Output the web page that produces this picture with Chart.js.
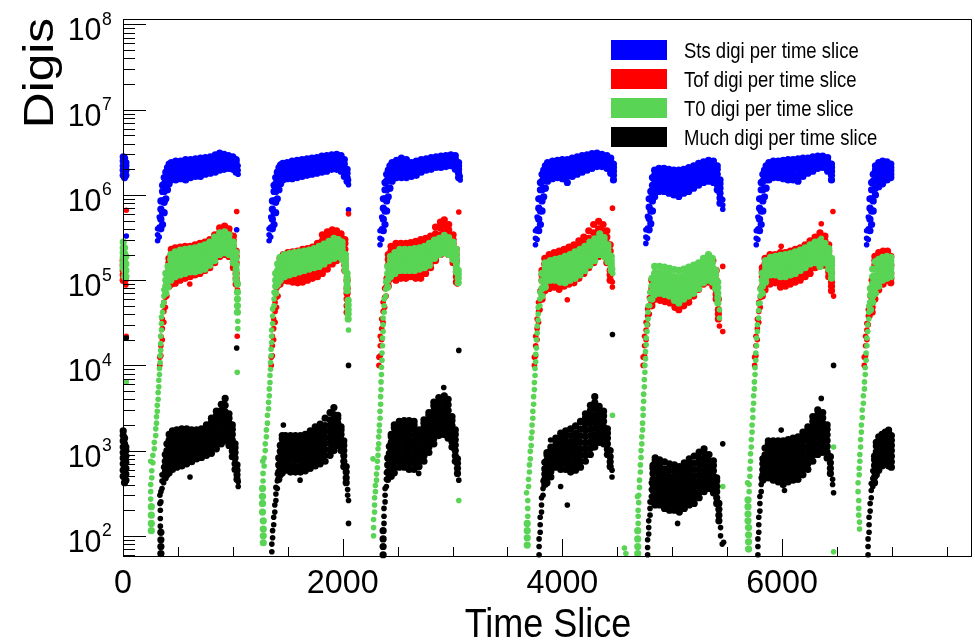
<!DOCTYPE html>
<html>
<head>
<meta charset="utf-8">
<title>Digis per time slice</title>
<script src="https://cdn.jsdelivr.net/npm/chart.js@4.4.1/dist/chart.umd.min.js"></script>
<style>
  html, body { margin: 0; padding: 0; background: #ffffff; }
  #wrap { width: 975px; height: 644px; }
</style>
</head>
<body>
<div id="wrap"><canvas id="digiChart" width="975" height="644"></canvas></div>
<script>
// labels, ticks and colours
const seriesLabels = ['Sts digi per time slice', 'Tof digi per time slice', 'T0 digi per time slice', 'Much digi per time slice'];
const seriesColors = ['#0000ff', '#ff0000', '#59d454', '#000000'];
const xTickLabels = [0, 2000, 4000, 6000];
const yDecades = [2, 3, 4, 5, 6, 7, 8];

// each row: [time slice, digi counts seen at that slice...]
const stsSeg0 = [
  [2, 1.7e6, 1.95e6, 2.2e6, 2.5e6, 2.8e6], [14, 1.6e6, 1.85e6, 2.1e6, 2.4e6, 2.7e6], [26, 1.7e6, 1.95e6, 2.2e6, 2.4e6],
  [30, 3.3e5]
];
const stsSeg1 = [
  [315, 2.9e5, 3.4e5, 4.0e5], [330, 3.2e5, 4.2e5, 5.5e5], [345, 4.0e5, 5.2e5, 6.8e5, 8.5e5],
  [360, 4.5e5, 6.2e5, 8.5e5, 1.1e6, 1.3e6], [375, 6.2e5, 8.2e5, 1.1e6, 1.35e6, 1.6e6],
  [390, 9.0e5, 1.15e6, 1.45e6, 1.85e6], [405, 1.15e6, 1.4e6, 1.7e6, 2.1e6], [420, 1.35e6, 1.65e6, 1.95e6, 2.3e6],
  [440, 1.5e6, 1.7e6, 1.9e6, 2.15e6, 2.4e6], [480, 1.5e6, 1.7e6, 1.95e6, 2.2e6, 2.5e6],
  [525, 1.55e6, 1.75e6, 2.0e6, 2.25e6, 2.5e6], [570, 1.5e6, 1.75e6, 2.0e6, 2.3e6, 2.6e6],
  [615, 1.6e6, 1.8e6, 2.05e6, 2.3e6, 2.6e6], [660, 1.65e6, 1.85e6, 2.1e6, 2.35e6, 2.65e6],
  [705, 1.65e6, 1.9e6, 2.15e6, 2.4e6, 2.7e6], [750, 1.75e6, 1.95e6, 2.2e6, 2.45e6, 2.75e6],
  [795, 1.8e6, 2.0e6, 2.25e6, 2.5e6, 2.8e6], [840, 1.85e6, 2.1e6, 2.35e6, 2.65e6, 2.95e6],
  [880, 1.95e6, 2.2e6, 2.45e6, 2.75e6, 3.1e6], [920, 2.0e6, 2.2e6, 2.45e6, 2.7e6, 3.0e6],
  [960, 2.05e6, 2.25e6, 2.45e6, 2.65e6, 2.9e6], [1000, 2.0e6, 2.2e6, 2.4e6, 2.6e6, 2.8e6],
  [1030, 1.85e6, 2.05e6, 2.25e6, 2.45e6, 2.6e6], [1048, 1.75e6, 1.95e6, 2.2e6], [1035, 3.9e5]
];
const stsSeg2 = [
  [1330, 2.9e5, 3.4e5, 4.0e5], [1345, 3.2e5, 4.2e5, 5.5e5], [1360, 4.0e5, 5.2e5, 6.8e5, 8.5e5],
  [1375, 4.5e5, 6.2e5, 8.5e5, 1.1e6, 1.3e6], [1390, 6.2e5, 8.2e5, 1.1e6, 1.35e6, 1.6e6],
  [1405, 9.0e5, 1.15e6, 1.45e6, 1.85e6], [1420, 1.15e6, 1.4e6, 1.7e6, 2.1e6], [1435, 1.35e6, 1.65e6, 1.95e6, 2.25e6],
  [1455, 1.5e6, 1.7e6, 1.9e6, 2.1e6, 2.35e6], [1495, 1.55e6, 1.75e6, 1.95e6, 2.15e6, 2.4e6],
  [1540, 1.55e6, 1.75e6, 2.0e6, 2.25e6, 2.5e6], [1585, 1.6e6, 1.8e6, 2.05e6, 2.3e6, 2.55e6],
  [1630, 1.65e6, 1.85e6, 2.1e6, 2.35e6, 2.6e6], [1675, 1.7e6, 1.9e6, 2.15e6, 2.4e6, 2.65e6],
  [1720, 1.75e6, 1.95e6, 2.2e6, 2.45e6, 2.7e6], [1765, 1.8e6, 2.0e6, 2.25e6, 2.5e6, 2.75e6],
  [1810, 1.85e6, 2.05e6, 2.3e6, 2.55e6, 2.85e6], [1855, 1.9e6, 2.1e6, 2.35e6, 2.6e6, 2.9e6],
  [1900, 2.0e6, 2.2e6, 2.45e6, 2.7e6, 2.95e6], [1945, 2.0e6, 2.2e6, 2.45e6, 2.7e6, 3.0e6],
  [1985, 1.9e6, 2.1e6, 2.35e6, 2.6e6, 2.9e6], [2015, 1.65e6, 1.85e6, 2.05e6, 2.3e6, 2.6e6],
  [2040, 1.45e6, 1.6e6, 1.8e6, 2.0e6], [2053, 1.32e6, 1.5e6], [2053, 6.7e5]
];
const stsSeg3 = [
  [2340, 2.6e5, 3.1e5, 3.8e5], [2355, 3.0e5, 4.0e5, 5.5e5], [2370, 3.8e5, 5.2e5, 7.0e5, 9.0e5],
  [2385, 4.5e5, 6.5e5, 9.0e5, 1.15e6, 1.4e6], [2400, 6.5e5, 8.5e5, 1.15e6, 1.45e6, 1.75e6],
  [2415, 9.5e5, 1.2e6, 1.55e6, 1.95e6], [2430, 1.2e6, 1.5e6, 1.85e6, 2.2e6],
  [2450, 1.45e6, 1.65e6, 1.85e6, 2.1e6, 2.4e6], [2490, 1.6e6, 1.8e6, 2.0e6, 2.25e6, 2.55e6],
  [2535, 1.6e6, 1.8e6, 2.05e6, 2.35e6, 2.7e6], [2580, 1.6e6, 1.8e6, 2.05e6, 2.3e6, 2.6e6],
  [2625, 1.65e6, 1.8e6, 2.0e6, 2.2e6, 2.4e6], [2670, 1.7e6, 1.9e6, 2.1e6, 2.3e6, 2.5e6],
  [2715, 1.85e6, 2.0e6, 2.2e6, 2.4e6, 2.6e6], [2760, 1.95e6, 2.1e6, 2.3e6, 2.5e6, 2.65e6],
  [2805, 2.0e6, 2.15e6, 2.35e6, 2.55e6, 2.75e6], [2850, 2.1e6, 2.25e6, 2.45e6, 2.65e6, 2.8e6],
  [2895, 2.1e6, 2.3e6, 2.5e6, 2.7e6, 2.85e6], [2940, 2.15e6, 2.3e6, 2.5e6, 2.7e6, 2.9e6],
  [2985, 2.2e6, 2.35e6, 2.55e6, 2.75e6, 2.95e6], [3025, 2.0e6, 2.2e6, 2.4e6, 2.65e6, 2.9e6],
  [3055, 1.6e6, 1.8e6, 2.0e6, 2.2e6, 2.4e6], [3070, 1.5e6, 1.65e6]
];
const stsSeg4 = [
  [3755, 2.6e5, 3.1e5, 3.8e5], [3770, 3.0e5, 4.0e5, 5.5e5], [3785, 3.8e5, 5.2e5, 7.0e5, 9.0e5],
  [3800, 4.5e5, 6.5e5, 9.0e5, 1.15e6, 1.4e6], [3815, 6.5e5, 8.5e5, 1.15e6, 1.45e6, 1.75e6],
  [3830, 9.5e5, 1.2e6, 1.55e6, 1.95e6], [3845, 1.2e6, 1.5e6, 1.85e6, 2.2e6],
  [3865, 1.45e6, 1.65e6, 1.85e6, 2.1e6, 2.4e6], [3910, 1.55e6, 1.75e6, 1.95e6, 2.2e6, 2.5e6],
  [3955, 1.6e6, 1.8e6, 2.0e6, 2.25e6, 2.55e6], [4000, 1.55e6, 1.75e6, 2.0e6, 2.3e6, 2.6e6],
  [4045, 1.4e6, 1.65e6, 1.9e6, 2.2e6, 2.6e6], [4090, 1.65e6, 1.85e6, 2.1e6, 2.4e6, 2.7e6],
  [4135, 1.75e6, 1.95e6, 2.2e6, 2.5e6, 2.8e6], [4180, 1.85e6, 2.05e6, 2.3e6, 2.6e6, 2.9e6],
  [4225, 1.95e6, 2.15e6, 2.4e6, 2.65e6, 2.95e6], [4270, 2.05e6, 2.25e6, 2.5e6, 2.75e6, 3.05e6],
  [4315, 2.15e6, 2.35e6, 2.6e6, 2.85e6, 3.1e6], [4360, 2.15e6, 2.35e6, 2.55e6, 2.8e6, 3.0e6],
  [4405, 2.05e6, 2.25e6, 2.45e6, 2.7e6, 2.9e6], [4440, 1.8e6, 2.0e6, 2.2e6, 2.45e6, 2.7e6],
  [4465, 1.5e6, 1.7e6, 1.9e6, 2.1e6, 2.3e6]
];
const stsSeg5 = [
  [4760, 2.7e5, 3.2e5, 3.9e5], [4775, 3.1e5, 4.1e5, 5.6e5], [4790, 3.9e5, 5.3e5, 7.2e5, 9.0e5],
  [4805, 4.6e5, 6.5e5, 9.0e5, 1.1e6], [4820, 6.5e5, 8.5e5, 1.05e6, 1.3e6, 1.6e6],
  [4840, 9.5e5, 1.1e6, 1.3e6, 1.5e6, 1.7e6, 1.95e6], [4880, 1.1e6, 1.25e6, 1.45e6, 1.65e6, 1.85e6, 2.05e6],
  [4925, 1.1e6, 1.25e6, 1.45e6, 1.65e6, 1.85e6, 2.05e6], [4970, 1.05e6, 1.2e6, 1.4e6, 1.6e6, 1.8e6, 2.0e6],
  [5015, 1.0e6, 1.15e6, 1.35e6, 1.55e6, 1.75e6, 1.95e6], [5060, 9.6e5, 1.12e6, 1.3e6, 1.5e6, 1.72e6, 1.95e6],
  [5105, 1.05e6, 1.2e6, 1.4e6, 1.6e6, 1.8e6, 2.0e6], [5150, 1.1e6, 1.28e6, 1.48e6, 1.68e6, 1.9e6, 2.1e6],
  [5195, 1.2e6, 1.38e6, 1.58e6, 1.78e6, 2.0e6, 2.2e6], [5240, 1.3e6, 1.48e6, 1.68e6, 1.9e6, 2.1e6, 2.35e6],
  [5285, 1.4e6, 1.58e6, 1.78e6, 2.0e6, 2.22e6, 2.45e6], [5330, 1.45e6, 1.65e6, 1.85e6, 2.08e6, 2.3e6, 2.55e6],
  [5375, 1.4e6, 1.6e6, 1.8e6, 2.02e6, 2.25e6, 2.5e6], [5410, 1.15e6, 1.32e6, 1.52e6, 1.75e6, 2.0e6, 2.2e6],
  [5435, 8.0e5, 9.2e5, 1.05e6, 1.2e6, 1.35e6, 1.5e6], [5460, 6.8e5, 7.6e5, 8.8e5]
];
const stsSeg6 = [
  [5765, 2.6e5, 3.1e5, 3.8e5], [5780, 3.0e5, 4.0e5, 5.5e5], [5795, 3.8e5, 5.2e5, 7.0e5, 9.0e5],
  [5810, 4.5e5, 6.5e5, 9.0e5, 1.15e6, 1.4e6], [5825, 6.5e5, 8.5e5, 1.15e6, 1.45e6, 1.75e6],
  [5840, 9.5e5, 1.2e6, 1.55e6, 1.95e6], [5855, 1.2e6, 1.5e6, 1.85e6, 2.2e6],
  [5880, 1.5e6, 1.7e6, 1.9e6, 2.15e6, 2.4e6], [5920, 1.6e6, 1.8e6, 2.0e6, 2.25e6, 2.5e6],
  [5965, 1.6e6, 1.8e6, 2.0e6, 2.25e6, 2.5e6], [6010, 1.55e6, 1.75e6, 2.0e6, 2.25e6, 2.55e6],
  [6055, 1.5e6, 1.72e6, 1.98e6, 2.25e6, 2.6e6], [6100, 1.5e6, 1.72e6, 2.0e6, 2.3e6, 2.6e6],
  [6145, 1.45e6, 1.7e6, 2.0e6, 2.3e6, 2.65e6], [6190, 1.65e6, 1.85e6, 2.1e6, 2.4e6, 2.7e6],
  [6235, 1.8e6, 1.98e6, 2.2e6, 2.45e6, 2.7e6], [6280, 1.9e6, 2.1e6, 2.3e6, 2.55e6, 2.8e6],
  [6325, 2.05e6, 2.22e6, 2.42e6, 2.62e6, 2.85e6], [6370, 2.1e6, 2.25e6, 2.45e6, 2.65e6, 2.85e6],
  [6415, 1.9e6, 2.1e6, 2.3e6, 2.5e6, 2.75e6], [6450, 1.5e6, 1.7e6, 1.9e6, 2.1e6, 2.3e6]
];
const stsSeg7 = [
  [6770, 2.6e5, 3.1e5, 3.8e5], [6785, 3.0e5, 4.0e5, 5.5e5], [6800, 3.8e5, 5.2e5, 7.0e5, 9.0e5],
  [6815, 4.5e5, 6.5e5, 9.0e5, 1.15e6, 1.4e6], [6830, 6.5e5, 8.5e5, 1.15e6, 1.45e6, 1.75e6],
  [6850, 1.0e6, 1.2e6, 1.45e6, 1.7e6, 1.95e6, 2.2e6], [6880, 1.25e6, 1.45e6, 1.7e6, 1.95e6, 2.2e6, 2.4e6],
  [6915, 1.35e6, 1.55e6, 1.8e6, 2.05e6, 2.3e6, 2.5e6], [6955, 1.5e6, 1.7e6, 1.9e6, 2.1e6, 2.3e6, 2.45e6],
  [6990, 1.6e6, 1.75e6, 1.92e6, 2.1e6, 2.3e6]
];

const tofSeg0 = [
  [2, 1.0e5, 1.15e5, 1.3e5, 1.5e5, 1.7e5], [14, 9.5e4, 1.08e5, 1.2e5], [26, 8.8e4, 1.0e5], [30, 6.6e5], [30, 2.2e4]
];
const tofSeg1 = [
  [335, 1.0e4, 1.25e4], [345, 1.3e4, 1.7e4, 2.2e4], [358, 2.0e4, 2.7e4, 3.5e4], [372, 3.2e4, 4.3e4, 5.5e4],
  [386, 4.8e4, 6.3e4, 8.0e4], [400, 6.5e4, 8.5e4, 1.05e5], [418, 8.5e4, 9.8e4, 1.15e5, 1.4e5, 1.6e5, 1.8e5],
  [440, 9.0e4, 1.04e5, 1.2e5, 1.7e5, 2.0e5, 2.3e5], [475, 9.2e4, 1.06e5, 1.25e5, 1.8e5, 2.1e5, 2.4e5],
  [520, 1.0e5, 1.15e5, 1.3e5, 1.85e5, 2.15e5, 2.45e5], [565, 1.05e5, 1.2e5, 1.35e5, 1.9e5, 2.2e5, 2.5e5],
  [608, 9.0e4], [610, 1.1e5, 1.25e5, 1.4e5, 1.95e5, 2.2e5, 2.5e5],
  [655, 1.15e5, 1.3e5, 1.45e5, 2.0e5, 2.3e5, 2.6e5], [700, 1.2e5, 1.35e5, 1.5e5, 2.1e5, 2.4e5, 2.7e5],
  [745, 1.3e5, 1.45e5, 1.6e5, 2.2e5, 2.5e5, 2.8e5], [790, 1.4e5, 1.55e5, 1.7e5, 2.3e5, 2.65e5, 3.0e5],
  [835, 1.6e5, 1.75e5, 1.9e5, 2.6e5, 3.0e5, 3.4e5], [880, 1.9e5, 2.1e5, 2.3e5, 3.1e5, 3.6e5, 4.1e5],
  [925, 2.0e5, 2.2e5, 2.4e5, 3.2e5, 3.7e5, 4.3e5], [965, 1.9e5, 2.1e5, 2.3e5, 3.0e5, 3.5e5, 4.0e5],
  [1005, 1.4e5, 1.6e5, 1.8e5, 2.5e5, 2.9e5, 3.3e5], [1030, 9.0e4, 1.05e5, 1.2e5, 1.6e5, 1.9e5, 2.2e5],
  [1042, 7.7e4, 9.5e4], [1035, 6.4e5], [1040, 2.2e4]
];
const tofSeg2 = [
  [1350, 1.0e4, 1.25e4], [1360, 1.3e4, 1.7e4, 2.2e4], [1372, 2.0e4, 2.7e4, 3.5e4], [1385, 3.2e4, 4.3e4, 5.5e4],
  [1398, 4.8e4, 6.3e4, 8.0e4], [1412, 6.5e4, 8.5e4, 1.05e5], [1430, 9.0e4, 1.05e5, 1.2e5, 1.45e5, 1.6e5, 1.8e5],
  [1460, 1.0e5, 1.15e5, 1.3e5, 1.65e5, 1.85e5, 2.0e5], [1500, 9.8e4, 1.12e5, 1.3e5, 1.7e5, 1.9e5, 2.1e5],
  [1545, 9.5e4, 1.1e5, 1.3e5, 1.7e5, 1.95e5, 2.15e5], [1590, 9.3e4, 1.08e5, 1.3e5, 1.75e5, 2.0e5, 2.2e5],
  [1635, 9.5e4, 1.1e5, 1.3e5, 1.75e5, 2.05e5, 2.3e5], [1680, 1.0e5, 1.15e5, 1.35e5, 1.8e5, 2.1e5, 2.35e5],
  [1725, 1.05e5, 1.2e5, 1.4e5, 1.85e5, 2.15e5, 2.45e5], [1770, 1.1e5, 1.25e5, 1.5e5, 2.0e5, 2.35e5, 2.7e5],
  [1815, 1.2e5, 1.38e5, 1.6e5, 2.3e5, 2.9e5, 3.4e5], [1860, 1.35e5, 1.55e5, 1.8e5, 2.6e5, 3.2e5, 3.7e5],
  [1905, 1.55e5, 1.75e5, 2.0e5, 2.8e5, 3.4e5, 3.9e5], [1945, 1.7e5, 1.9e5, 2.1e5, 2.9e5, 3.4e5, 3.8e5],
  [1985, 1.8e5, 2.0e5, 2.2e5, 2.8e5, 3.2e5, 3.5e5], [2020, 1.3e5, 1.5e5, 1.7e5, 2.3e5, 2.7e5, 3.0e5],
  [2040, 4.2e4, 5.0e4, 6.0e4, 7.0e4, 8.0e4, 1.0e5], [2053, 6.0e5]
];
const tofSeg3 = [
  [2330, 1.0e4, 1.25e4], [2342, 1.3e4, 1.7e4, 2.2e4], [2355, 2.0e4, 2.7e4, 3.5e4], [2368, 3.2e4, 4.3e4, 5.5e4],
  [2382, 4.8e4, 6.3e4, 8.0e4], [2396, 6.5e4, 8.5e4, 1.05e5], [2415, 8.5e4, 9.8e4, 1.1e5, 1.5e5, 1.75e5, 2.0e5],
  [2440, 1.05e5, 1.2e5, 1.4e5, 1.9e5, 2.2e5, 2.5e5], [2485, 1.0e5, 1.15e5, 1.4e5, 1.9e5, 2.3e5, 2.7e5],
  [2530, 1.05e5, 1.2e5, 1.45e5, 2.0e5, 2.35e5, 2.7e5], [2575, 1.05e5, 1.2e5, 1.45e5, 2.0e5, 2.35e5, 2.7e5],
  [2620, 1.1e5, 1.25e5, 1.5e5, 2.05e5, 2.4e5, 2.75e5], [2665, 1.05e5, 1.2e5, 1.45e5, 2.05e5, 2.45e5, 2.85e5],
  [2710, 1.05e5, 1.2e5, 1.45e5, 2.1e5, 2.55e5, 3.0e5], [2755, 1.2e5, 1.38e5, 1.6e5, 2.25e5, 2.65e5, 3.1e5],
  [2800, 1.4e5, 1.6e5, 1.8e5, 2.4e5, 2.85e5, 3.3e5], [2845, 1.7e5, 1.9e5, 2.1e5, 2.9e5, 3.5e5, 4.2e5],
  [2890, 2.0e5, 2.25e5, 2.5e5, 3.4e5, 4.1e5, 4.8e5], [2925, 2.1e5, 2.35e5, 2.6e5, 3.6e5, 4.3e5, 5.1e5],
  [2965, 2.0e5, 2.25e5, 2.5e5, 3.3e5, 3.9e5, 4.5e5], [3005, 1.6e5, 1.8e5, 2.0e5, 2.7e5, 3.0e5, 3.4e5],
  [3035, 9.5e4, 1.1e5, 1.25e5, 1.7e5, 2.0e5, 2.3e5], [3045, 9.0e4], [3057, 6.3e5]
];
const tofSeg4 = [
  [3745, 1.0e4, 1.25e4], [3757, 1.3e4, 1.7e4, 2.2e4], [3770, 2.0e4, 2.7e4, 3.5e4], [3783, 3.2e4, 4.3e4, 5.5e4],
  [3797, 4.5e4, 5.8e4, 7.5e4], [3815, 6.0e4, 6.9e4, 7.8e4, 1.0e5, 1.15e5, 1.3e5],
  [3840, 7.5e4, 8.6e4, 1.0e5, 1.35e5, 1.55e5, 1.8e5], [3880, 8.0e4, 9.2e4, 1.05e5, 1.45e5, 1.7e5, 2.0e5],
  [3925, 8.3e4, 9.5e4, 1.1e5, 1.5e5, 1.8e5, 2.1e5], [3970, 7.8e4, 9.0e4, 1.05e5, 1.5e5, 1.85e5, 2.2e5],
  [4015, 8.5e4, 9.8e4, 1.15e5, 1.6e5, 1.95e5, 2.3e5], [4045, 5.9e4],
  [4060, 9.0e4, 1.04e5, 1.2e5, 1.7e5, 2.05e5, 2.45e5], [4105, 9.3e4, 1.07e5, 1.25e5, 1.8e5, 2.2e5, 2.6e5],
  [4150, 1.05e5, 1.2e5, 1.4e5, 2.0e5, 2.45e5, 2.9e5], [4195, 1.2e5, 1.38e5, 1.6e5, 2.2e5, 2.7e5, 3.2e5],
  [4240, 1.4e5, 1.6e5, 1.8e5, 2.5e5, 3.1e5, 3.8e5], [4285, 1.6e5, 1.8e5, 2.0e5, 2.8e5, 3.6e5, 4.5e5],
  [4330, 1.9e5, 2.1e5, 2.3e5, 3.2e5, 4.0e5, 4.9e5], [4370, 2.0e5, 2.2e5, 2.4e5, 3.2e5, 3.8e5, 4.5e5],
  [4405, 1.6e5, 1.8e5, 2.0e5, 2.7e5, 3.2e5, 3.8e5], [4435, 1.0e5, 1.15e5, 1.3e5, 1.8e5, 2.2e5, 2.6e5],
  [4455, 8.3e4, 9.5e4], [4456, 7.0e5]
];
const tofSeg5 = [
  [4735, 1.0e4, 1.25e4], [4748, 1.3e4, 1.7e4, 2.2e4], [4762, 2.0e4, 2.6e4, 3.2e4], [4776, 3.0e4, 3.8e4, 4.6e4],
  [4792, 4.0e4, 5.0e4, 6.2e4], [4815, 5.0e4, 5.6e4, 6.2e4, 8.0e4, 1.0e5], [4845, 6.0e4, 6.7e4, 7.5e4, 9.5e4, 1.2e5],
  [4890, 5.8e4, 6.5e4, 7.2e4, 9.0e4, 1.15e5], [4935, 5.6e4, 6.3e4, 7.0e4, 8.8e4, 1.1e5],
  [4980, 5.4e4, 6.0e4, 6.8e4, 8.5e4, 1.1e5], [5025, 4.8e4, 5.4e4, 6.2e4, 8.0e4, 1.05e5],
  [5060, 4.5e4, 5.2e4, 6.0e4, 8.0e4, 1.05e5], [5105, 5.0e4, 5.7e4, 6.5e4, 8.5e4, 1.1e5],
  [5150, 5.5e4, 6.2e4, 7.0e4, 9.0e4, 1.2e5], [5195, 6.5e4, 7.2e4, 8.0e4, 1.0e5, 1.3e5],
  [5240, 7.8e4, 8.6e4, 9.5e4, 1.2e5, 1.5e5], [5285, 9.0e4, 1.0e5, 1.1e5, 1.35e5, 1.7e5],
  [5330, 9.5e4, 1.05e5, 1.15e5, 1.45e5, 1.9e5], [5370, 8.5e4, 9.5e4, 1.05e5, 1.35e5, 1.7e5],
  [5400, 6.0e4, 6.8e4, 7.7e4, 1.0e5, 1.3e5], [5420, 3.5e4, 4.0e4, 4.5e4, 6.0e4], [5430, 2.9e4],
  [5460, 1.45e5], [5460, 2.5e4]
];
const tofSeg6 = [
  [5750, 1.0e4, 1.25e4], [5762, 1.3e4, 1.7e4, 2.2e4], [5775, 2.0e4, 2.7e4, 3.5e4], [5788, 3.2e4, 4.3e4, 5.5e4],
  [5802, 4.8e4, 6.3e4, 8.0e4], [5820, 6.5e4, 7.5e4, 8.5e4, 1.1e5, 1.25e5, 1.4e5],
  [5845, 7.7e4, 8.8e4, 1.0e5, 1.35e5, 1.55e5, 1.8e5], [5890, 9.0e4, 1.02e5, 1.15e5, 1.5e5, 1.75e5, 2.0e5],
  [5935, 9.3e4, 1.05e5, 1.2e5, 1.55e5, 1.75e5, 2.0e5], [5985, 8.3e4, 9.5e4, 1.1e5, 1.5e5, 1.8e5, 2.1e5],
  [5992, 2.5e5], [6030, 8.5e4, 9.7e4, 1.1e5, 1.5e5, 1.8e5, 2.1e5],
  [6075, 9.0e4, 1.02e5, 1.15e5, 1.55e5, 1.85e5, 2.2e5], [6120, 9.5e4, 1.08e5, 1.25e5, 1.65e5, 1.95e5, 2.3e5],
  [6165, 1.0e5, 1.15e5, 1.3e5, 1.75e5, 2.05e5, 2.4e5], [6210, 1.1e5, 1.25e5, 1.4e5, 1.9e5, 2.2e5, 2.6e5],
  [6255, 1.2e5, 1.37e5, 1.55e5, 2.1e5, 2.5e5, 2.9e5], [6300, 1.4e5, 1.57e5, 1.75e5, 2.4e5, 2.8e5, 3.2e5],
  [6345, 1.6e5, 1.8e5, 2.0e5, 2.7e5, 3.1e5, 3.6e5], [6357, 4.6e5],
  [6390, 1.5e5, 1.7e5, 1.9e5, 2.5e5, 2.9e5, 3.3e5], [6425, 1.1e5, 1.25e5, 1.4e5, 1.9e5, 2.2e5, 2.6e5],
  [6450, 7.5e4, 8.5e4, 9.5e4, 1.2e5], [6469, 6.5e4], [6463, 6.4e5]
];
const tofSeg7 = [
  [6748, 1.0e4, 1.25e4], [6760, 1.3e4, 1.7e4, 2.2e4], [6772, 2.0e4, 2.6e4, 3.1e4], [6785, 3.0e4, 3.8e4, 4.5e4],
  [6800, 3.8e4, 5.0e4, 6.5e4], [6820, 4.2e4, 4.8e4, 5.5e4, 7.5e4, 1.0e5],
  [6845, 6.0e4, 7.0e4, 8.0e4, 1.1e5, 1.5e5, 1.7e5, 1.9e5], [6880, 7.7e4, 8.8e4, 1.0e5, 1.35e5, 1.7e5, 1.9e5, 2.1e5],
  [6920, 9.0e4, 1.02e5, 1.15e5, 1.5e5, 1.85e5, 2.05e5, 2.2e5], [6960, 1.0e5, 1.12e5, 1.25e5, 1.55e5, 1.9e5, 2.05e5, 2.2e5],
  [6990, 9.3e4, 1.05e5, 1.2e5, 1.5e5, 1.9e5]
];

const t0Seg0 = [
  [2, 1.4e5, 1.6e5, 1.85e5, 2.1e5, 2.4e5, 2.8e5], [14, 1.1e5, 1.3e5, 1.5e5, 1.75e5, 2.05e5, 2.4e5],
  [26, 1.1e5, 1.3e5, 1.55e5, 1.9e5], [30, 6.4e3]
];
const t0Seg1 = [
  [258, 1.15e2, 1.4e2, 1.75e2, 2.2e2], [252, 2.7e2, 3.3e2, 4.0e2], [262, 4.8e2, 5.8e2], [252, 7.5e2],
  [272, 7.2e2, 8.8e2], [285, 1.05e3, 1.25e3], [298, 1.5e3, 1.8e3], [305, 2.1e3, 2.5e3], [312, 2.9e3, 3.4e3],
  [320, 4.0e3, 4.8e3], [326, 5.6e3, 6.7e3], [332, 7.8e3, 9.2e3], [338, 1.08e4, 1.3e4], [343, 1.5e4, 1.8e4, 2.2e4],
  [350, 2.6e4, 3.1e4, 3.7e4], [360, 4.2e4, 5.0e4], [372, 5.5e4, 6.5e4, 7.7e4], [390, 7.0e4, 8.5e4, 1.0e5, 1.2e5],
  [410, 8.3e4, 1.0e5, 1.2e5, 1.45e5], [435, 1.0e5, 1.15e5, 1.32e5, 1.5e5, 1.75e5, 2.0e5],
  [475, 1.1e5, 1.26e5, 1.44e5, 1.65e5, 1.88e5, 2.15e5], [520, 1.15e5, 1.32e5, 1.5e5, 1.72e5, 1.97e5, 2.25e5],
  [565, 1.2e5, 1.37e5, 1.56e5, 1.78e5, 2.02e5, 2.3e5], [610, 1.25e5, 1.42e5, 1.61e5, 1.83e5, 2.07e5, 2.35e5],
  [655, 1.25e5, 1.43e5, 1.63e5, 1.86e5, 2.12e5, 2.4e5], [700, 1.3e5, 1.49e5, 1.7e5, 1.94e5, 2.2e5, 2.5e5],
  [745, 1.35e5, 1.55e5, 1.77e5, 2.02e5, 2.3e5, 2.6e5], [790, 1.5e5, 1.71e5, 1.95e5, 2.21e5, 2.5e5, 2.8e5],
  [835, 1.7e5, 1.94e5, 2.2e5, 2.5e5, 2.85e5, 3.2e5], [880, 2.0e5, 2.25e5, 2.5e5, 2.8e5, 3.2e5, 3.6e5],
  [925, 2.1e5, 2.35e5, 2.6e5, 2.9e5, 3.3e5, 3.7e5], [965, 2.0e5, 2.22e5, 2.45e5, 2.7e5, 3.0e5, 3.4e5],
  [1005, 1.6e5, 1.78e5, 1.97e5, 2.2e5, 2.5e5, 2.8e5], [1030, 1.0e5, 1.15e5, 1.32e5, 1.5e5, 1.8e5, 2.1e5],
  [1042, 4.2e4, 5.0e4, 6.0e4, 7.2e4, 9.0e4], [1045, 2.7e4, 3.3e4], [1040, 8.3e3]
];
const t0Seg2 = [
  [1277, 8.3e1, 1.0e2, 1.2e2, 1.5e2], [1270, 1.9e2, 2.4e2, 2.9e2, 3.6e2], [1275, 4.4e2, 5.4e2], [1272, 7.5e2],
  [1285, 6.6e2, 8.2e2], [1295, 1.0e3, 1.2e3], [1305, 1.45e3, 1.75e3], [1315, 2.1e3, 2.6e3], [1325, 3.1e3, 3.7e3],
  [1332, 4.4e3, 5.3e3], [1338, 6.3e3, 7.6e3], [1343, 9.0e3, 1.08e4], [1348, 1.3e4, 1.55e4],
  [1353, 1.85e4, 2.2e4, 2.6e4], [1362, 3.1e4, 3.8e4, 4.6e4], [1375, 5.0e4, 6.0e4, 7.2e4],
  [1390, 7.0e4, 8.5e4, 1.0e5, 1.2e5], [1408, 9.0e4, 1.1e5, 1.3e5, 1.55e5],
  [1430, 1.0e5, 1.15e5, 1.3e5, 1.45e5, 1.65e5, 1.85e5], [1470, 1.1e5, 1.25e5, 1.4e5, 1.57e5, 1.77e5, 2.0e5],
  [1515, 1.15e5, 1.3e5, 1.45e5, 1.62e5, 1.82e5, 2.05e5], [1560, 1.2e5, 1.35e5, 1.5e5, 1.67e5, 1.87e5, 2.1e5],
  [1605, 1.25e5, 1.4e5, 1.55e5, 1.72e5, 1.92e5, 2.15e5], [1650, 1.3e5, 1.45e5, 1.6e5, 1.78e5, 1.98e5, 2.2e5],
  [1695, 1.35e5, 1.5e5, 1.66e5, 1.84e5, 2.04e5, 2.25e5], [1740, 1.4e5, 1.56e5, 1.73e5, 1.92e5, 2.13e5, 2.35e5],
  [1785, 1.45e5, 1.62e5, 1.81e5, 2.02e5, 2.25e5, 2.5e5], [1830, 1.55e5, 1.73e5, 1.93e5, 2.15e5, 2.4e5, 2.65e5],
  [1875, 1.7e5, 1.9e5, 2.1e5, 2.33e5, 2.58e5, 2.85e5], [1920, 1.8e5, 2.0e5, 2.22e5, 2.47e5, 2.77e5, 3.1e5],
  [1960, 1.9e5, 2.07e5, 2.27e5, 2.5e5, 2.75e5, 3.0e5], [1995, 1.75e5, 1.92e5, 2.1e5, 2.3e5, 2.55e5, 2.8e5],
  [2025, 1.3e5, 1.45e5, 1.6e5, 1.8e5, 2.0e5], [2040, 7.5e4, 8.5e4, 9.5e4, 1.07e5, 1.2e5],
  [2050, 3.5e4, 4.0e4, 4.5e4, 5.1e4, 5.8e4], [2053, 2.6e4]
];
const t0Seg3 = [
  [2281, 1.0e2, 1.25e2, 1.55e2], [2290, 1.9e2, 2.3e2, 2.8e2], [2298, 3.3e2, 3.9e2], [2308, 4.5e2, 5.3e2], [2276, 8.0e2],
  [2316, 6.3e2, 7.5e2], [2322, 8.8e2, 1.05e3], [2328, 1.2e3, 1.45e3], [2334, 1.7e3, 2.0e3], [2340, 2.4e3, 2.9e3],
  [2345, 3.5e3, 4.3e3], [2349, 5.2e3, 6.4e3], [2353, 7.8e3, 9.5e3], [2358, 1.15e4, 1.4e4], [2363, 1.7e4, 2.1e4],
  [2368, 2.5e4, 3.0e4, 3.6e4], [2378, 4.2e4, 5.0e4, 6.0e4], [2392, 6.5e4, 7.8e4, 9.5e4],
  [2410, 8.3e4, 1.0e5, 1.2e5, 1.45e5], [2435, 1.1e5, 1.23e5, 1.37e5, 1.53e5, 1.7e5, 1.9e5],
  [2475, 1.2e5, 1.35e5, 1.5e5, 1.67e5, 1.87e5, 2.1e5], [2520, 1.3e5, 1.45e5, 1.62e5, 1.82e5, 2.05e5, 2.3e5],
  [2565, 1.3e5, 1.45e5, 1.62e5, 1.82e5, 2.05e5, 2.3e5], [2610, 1.3e5, 1.45e5, 1.62e5, 1.82e5, 2.05e5, 2.3e5],
  [2655, 1.3e5, 1.46e5, 1.64e5, 1.85e5, 2.08e5, 2.35e5], [2700, 1.35e5, 1.51e5, 1.69e5, 1.9e5, 2.13e5, 2.4e5],
  [2745, 1.4e5, 1.57e5, 1.77e5, 2.0e5, 2.23e5, 2.5e5], [2790, 1.5e5, 1.7e5, 1.92e5, 2.17e5, 2.42e5, 2.7e5],
  [2835, 1.8e5, 1.98e5, 2.18e5, 2.4e5, 2.65e5, 2.95e5], [2880, 2.0e5, 2.18e5, 2.38e5, 2.6e5, 2.85e5, 3.1e5],
  [2925, 2.1e5, 2.3e5, 2.52e5, 2.77e5, 3.05e5, 3.35e5], [2965, 2.0e5, 2.2e5, 2.4e5, 2.63e5, 2.88e5, 3.15e5],
  [3005, 1.75e5, 1.92e5, 2.1e5, 2.32e5, 2.55e5, 2.8e5], [3035, 1.25e5, 1.4e5, 1.57e5, 1.77e5, 2.0e5, 2.3e5],
  [3052, 9.3e4, 1.05e5, 1.17e5, 1.3e5], [3057, 2.6e2]
];
const t0Seg4 = [
  [3680, 7.8e1, 9.5e1, 1.15e2, 1.4e2], [3685, 1.7e2, 2.1e2, 2.6e2], [3674, 3.2e2], [3692, 3.8e2, 4.6e2],
  [3700, 5.6e2, 6.8e2], [3708, 8.0e2, 9.8e2], [3716, 1.15e3, 1.4e3], [3724, 1.65e3, 2.0e3], [3731, 2.4e3, 2.9e3],
  [3738, 3.5e3, 4.3e3], [3745, 5.2e3, 6.3e3], [3751, 7.6e3, 9.2e3], [3757, 1.1e4, 1.35e4], [3764, 1.6e4, 2.0e4],
  [3771, 2.4e4, 2.9e4], [3780, 3.4e4, 4.0e4, 4.8e4], [3795, 5.0e4, 6.0e4, 7.2e4], [3815, 6.5e4, 8.0e4, 9.8e4, 1.2e5],
  [3845, 8.3e4, 9.5e4, 1.08e5, 1.22e5, 1.4e5, 1.6e5], [3890, 1.0e5, 1.1e5, 1.22e5, 1.36e5, 1.52e5, 1.7e5],
  [3935, 1.0e5, 1.11e5, 1.24e5, 1.39e5, 1.56e5, 1.75e5], [3980, 9.5e4, 1.07e5, 1.21e5, 1.37e5, 1.57e5, 1.8e5],
  [4025, 9.3e4, 1.06e5, 1.21e5, 1.39e5, 1.62e5, 1.9e5], [4070, 1.0e5, 1.14e5, 1.3e5, 1.5e5, 1.73e5, 2.0e5],
  [4115, 1.05e5, 1.2e5, 1.38e5, 1.59e5, 1.85e5, 2.15e5], [4160, 1.15e5, 1.31e5, 1.5e5, 1.73e5, 2.0e5, 2.3e5],
  [4205, 1.3e5, 1.48e5, 1.69e5, 1.93e5, 2.2e5, 2.5e5], [4250, 1.5e5, 1.7e5, 1.93e5, 2.2e5, 2.5e5, 2.8e5],
  [4295, 1.7e5, 1.92e5, 2.17e5, 2.45e5, 2.75e5, 3.05e5], [4340, 2.0e5, 2.25e5, 2.52e5, 2.82e5, 3.15e5, 3.5e5],
  [4380, 1.9e5, 2.1e5, 2.32e5, 2.57e5, 2.85e5, 3.15e5], [4415, 1.65e5, 1.8e5, 1.97e5, 2.17e5, 2.38e5, 2.6e5],
  [4445, 1.3e5, 1.42e5, 1.55e5, 1.7e5, 1.9e5], [4458, 1.2e5, 1.35e5], [4456, 2.6e3]
];
const t0Seg5 = [
  [4565, 7.2e1], [4578, 6.2e1], [4686, 6.2e1, 7.5e1, 9.2e1, 1.15e2], [4690, 1.4e2, 1.7e2, 2.0e2], [4684, 2.9e2],
  [4695, 2.45e2, 3.0e2], [4702, 3.7e2, 4.5e2], [4710, 5.6e2, 6.8e2], [4716, 8.3e2, 1.0e3], [4723, 1.2e3, 1.45e3],
  [4730, 1.75e3, 2.1e3], [4735, 2.6e3, 3.1e3], [4740, 3.8e3, 4.6e3], [4746, 5.6e3, 6.8e3], [4751, 8.3e3, 1.0e4],
  [4757, 1.2e4, 1.45e4], [4763, 1.75e4, 2.1e4], [4770, 2.5e4, 3.0e4], [4780, 3.5e4, 4.2e4, 5.0e4],
  [4795, 5.0e4, 6.0e4, 7.2e4], [4815, 6.0e4, 7.2e4, 8.6e4, 1.05e5],
  [4840, 6.8e4, 7.8e4, 9.0e4, 1.04e5, 1.2e5, 1.45e5], [4885, 7.0e4, 8.0e4, 9.2e4, 1.05e5, 1.22e5, 1.45e5],
  [4930, 6.8e4, 7.8e4, 9.0e4, 1.03e5, 1.2e5, 1.42e5], [4975, 6.5e4, 7.5e4, 8.7e4, 1.0e5, 1.17e5, 1.38e5],
  [5020, 5.8e4, 6.8e4, 8.0e4, 9.4e4, 1.1e5, 1.33e5], [5060, 5.4e4, 6.4e4, 7.6e4, 9.0e4, 1.07e5, 1.3e5],
  [5105, 6.0e4, 7.0e4, 8.2e4, 9.6e4, 1.13e5, 1.35e5], [5150, 6.5e4, 7.6e4, 8.8e4, 1.03e5, 1.2e5, 1.42e5],
  [5195, 7.0e4, 8.2e4, 9.5e4, 1.1e5, 1.28e5, 1.5e5], [5240, 8.0e4, 9.2e4, 1.06e5, 1.22e5, 1.4e5, 1.6e5],
  [5285, 9.3e4, 1.07e5, 1.22e5, 1.4e5, 1.6e5, 1.8e5], [5330, 1.0e5, 1.15e5, 1.32e5, 1.52e5, 1.75e5, 2.0e5],
  [5365, 9.5e4, 1.08e5, 1.24e5, 1.42e5, 1.6e5, 1.8e5], [5395, 8.0e4, 9.0e4, 1.02e5, 1.15e5, 1.3e5],
  [5415, 5.4e4, 6.2e4, 7.0e4, 8.2e4, 9.5e4], [5430, 3.6e4, 4.5e4], [5460, 3.8e2]
];
const t0Seg6 = [
  [5695, 7.0e1, 8.5e1, 1.03e2, 1.25e2], [5690, 1.5e2, 1.8e2, 2.2e2, 2.65e2], [5686, 4.2e2], [5700, 3.3e2, 4.0e2],
  [5707, 5.0e2, 6.1e2], [5713, 7.5e2, 9.2e2], [5720, 1.1e3, 1.35e3], [5727, 1.65e3, 2.0e3], [5734, 2.45e3, 3.0e3],
  [5741, 3.6e3, 4.4e3], [5748, 5.3e3, 6.4e3], [5754, 7.8e3, 9.4e3], [5761, 1.15e4, 1.4e4], [5768, 1.7e4, 2.1e4],
  [5776, 2.5e4, 3.0e4], [5786, 3.6e4, 4.4e4, 5.3e4], [5800, 5.4e4, 6.5e4, 7.8e4], [5820, 7.0e4, 8.5e4, 1.0e5, 1.2e5],
  [5850, 9.5e4, 1.07e5, 1.2e5, 1.35e5, 1.52e5, 1.7e5], [5895, 1.15e5, 1.27e5, 1.4e5, 1.54e5, 1.69e5, 1.85e5],
  [5940, 1.15e5, 1.27e5, 1.41e5, 1.56e5, 1.72e5, 1.9e5], [5985, 1.1e5, 1.23e5, 1.37e5, 1.53e5, 1.72e5, 1.95e5],
  [6030, 1.1e5, 1.23e5, 1.38e5, 1.55e5, 1.76e5, 2.0e5], [6075, 1.15e5, 1.28e5, 1.43e5, 1.6e5, 1.81e5, 2.05e5],
  [6120, 1.2e5, 1.34e5, 1.5e5, 1.69e5, 1.9e5, 2.15e5], [6165, 1.3e5, 1.45e5, 1.61e5, 1.8e5, 2.01e5, 2.25e5],
  [6210, 1.4e5, 1.56e5, 1.74e5, 1.94e5, 2.16e5, 2.4e5], [6255, 1.55e5, 1.72e5, 1.91e5, 2.12e5, 2.35e5, 2.6e5],
  [6300, 1.6e5, 1.79e5, 2.0e5, 2.24e5, 2.5e5, 2.8e5], [6345, 1.45e5, 1.7e5, 1.95e5, 2.2e5, 2.5e5, 2.9e5],
  [6357, 3.1e5], [6390, 1.6e5, 1.77e5, 1.96e5, 2.18e5, 2.43e5, 2.7e5],
  [6425, 1.35e5, 1.5e5, 1.67e5, 1.86e5, 2.08e5, 2.35e5], [6450, 1.05e5, 1.18e5, 1.33e5, 1.5e5, 1.65e5, 1.8e5],
  [6469, 1.1e3], [6469, 6.5e1]
];
const t0Seg7 = [
  [6705, 1.2e2, 1.45e2], [6698, 1.75e2, 2.1e2, 2.6e2], [6692, 3.3e2, 4.2e2], [6702, 5.2e2, 6.2e2], [6708, 7.5e2, 9.0e2],
  [6715, 1.1e3, 1.35e3], [6722, 1.65e3, 2.0e3], [6730, 2.45e3, 3.0e3], [6740, 3.6e3, 4.4e3], [6750, 5.3e3, 6.4e3],
  [6757, 7.8e3, 9.4e3], [6765, 1.15e4, 1.4e4], [6772, 1.7e4, 2.1e4], [6780, 2.5e4, 3.0e4], [6790, 3.5e4, 4.2e4, 5.0e4],
  [6805, 4.5e4, 5.5e4, 6.7e4, 8.0e4], [6825, 5.5e4, 6.5e4, 7.7e4, 9.2e4, 1.1e5, 1.35e5],
  [6850, 7.0e4, 8.2e4, 9.6e4, 1.12e5, 1.35e5, 1.65e5], [6880, 8.5e4, 9.8e4, 1.12e5, 1.3e5, 1.5e5, 1.75e5],
  [6915, 1.0e5, 1.13e5, 1.28e5, 1.45e5, 1.64e5, 1.85e5], [6955, 1.05e5, 1.19e5, 1.35e5, 1.52e5, 1.7e5, 1.9e5],
  [6990, 1.1e5, 1.23e5, 1.37e5, 1.52e5, 1.68e5, 1.85e5]
];

const muchSeg0 = [
  [2, 5.0e2, 5.9e2, 7.0e2, 8.2e2, 9.5e2, 1.1e3, 1.3e3, 1.5e3, 1.7e3],
  [14, 4.2e2, 4.9e2, 5.7e2, 6.6e2, 7.7e2, 9.0e2, 1.05e3, 1.2e3, 1.4e3],
  [26, 4.5e2, 5.3e2, 6.2e2, 7.3e2, 8.6e2, 1.0e3, 1.1e3], [30, 2.1e4]
];
const muchSeg1 = [
  [345, 6.2e1, 7.5e1, 9.0e1, 1.1e2], [340, 1.3e2, 1.6e2, 2.0e2], [336, 2.4e2, 3.0e2], [345, 2.5e2, 3.3e2],
  [355, 3.6e2, 4.4e2, 5.2e2], [370, 4.2e2, 5.2e2, 6.4e2], [385, 4.8e2, 5.6e2, 6.5e2, 7.5e2, 9.0e2],
  [400, 5.2e2, 6.1e2, 7.1e2, 8.3e2, 1.0e3, 1.2e3],
  [420, 5.5e2, 6.4e2, 7.4e2, 8.6e2, 1.0e3, 1.15e3, 1.33e3, 1.55e3],
  [450, 6.0e2, 7.0e2, 8.1e2, 9.4e2, 1.09e3, 1.26e3, 1.46e3, 1.7e3],
  [490, 6.4e2, 7.4e2, 8.6e2, 1.0e3, 1.15e3, 1.33e3, 1.52e3, 1.75e3],
  [535, 6.6e2, 7.7e2, 8.9e2, 1.03e3, 1.19e3, 1.37e3, 1.57e3, 1.8e3],
  [580, 7.0e2, 8.1e2, 9.3e2, 1.07e3, 1.22e3, 1.4e3, 1.6e3, 1.8e3], [610, 4.9e2],
  [625, 7.4e2, 8.5e2, 9.7e2, 1.11e3, 1.26e3, 1.43e3, 1.6e3, 1.75e3],
  [670, 8.0e2, 9.1e2, 1.03e3, 1.17e3, 1.32e3, 1.48e3, 1.65e3, 1.75e3],
  [715, 8.3e2, 9.5e2, 1.08e3, 1.22e3, 1.38e3, 1.55e3, 1.72e3, 1.8e3],
  [760, 8.8e2, 1.0e3, 1.14e3, 1.3e3, 1.48e3, 1.68e3, 1.88e3, 2.0e3],
  [805, 9.3e2, 1.07e3, 1.23e3, 1.42e3, 1.63e3, 1.88e3, 2.15e3, 2.4e3],
  [850, 1.05e3, 1.22e3, 1.42e3, 1.65e3, 1.92e3, 2.23e3, 2.55e3, 2.9e3],
  [895, 1.2e3, 1.4e3, 1.63e3, 1.9e3, 2.2e3, 2.55e3, 2.97e3, 3.5e3],
  [930, 1.3e3, 1.52e3, 1.78e3, 2.08e3, 2.43e3, 2.85e3, 3.4e3, 4.1e3],
  [965, 1.15e3, 1.33e3, 1.55e3, 1.8e3, 2.1e3, 2.4e3, 2.7e3],
  [995, 8.5e2, 9.9e2, 1.15e3, 1.33e3, 1.55e3, 1.78e3, 2.0e3],
  [1020, 6.0e2, 7.0e2, 8.2e2, 9.5e2, 1.08e3, 1.2e3], [1038, 4.6e2, 5.2e2, 5.9e2, 6.8e2],
  [1049, 3.8e2, 4.3e2], [1035, 1.6e4]
];
const muchSeg2 = [
  [1355, 6.5e1, 8.0e1], [1362, 9.5e1, 1.15e2], [1372, 1.35e2, 1.65e2], [1382, 1.9e2, 2.3e2], [1392, 2.6e2, 3.1e2, 3.7e2],
  [1405, 3.6e2, 4.4e2, 5.3e2], [1418, 4.6e2, 5.6e2, 6.8e2, 8.2e2], [1432, 5.2e2, 6.1e2, 7.1e2, 8.3e2, 9.8e2, 1.15e3],
  [1450, 5.5e2, 6.4e2, 7.5e2, 8.8e2, 1.03e3, 1.2e3, 1.38e3, 1.5e3], [1460, 2.0e3],
  [1480, 5.9e2, 6.9e2, 8.0e2, 9.3e2, 1.08e3, 1.24e3, 1.4e3, 1.5e3],
  [1525, 5.6e2, 6.5e2, 7.6e2, 8.9e2, 1.04e3, 1.2e3, 1.36e3, 1.5e3],
  [1570, 5.6e2, 6.5e2, 7.6e2, 8.9e2, 1.04e3, 1.2e3, 1.36e3, 1.5e3], [1612, 4.5e2],
  [1615, 5.6e2, 6.5e2, 7.6e2, 8.9e2, 1.04e3, 1.2e3, 1.36e3, 1.5e3],
  [1660, 5.8e2, 6.8e2, 7.9e2, 9.2e2, 1.07e3, 1.23e3, 1.4e3, 1.55e3],
  [1705, 6.2e2, 7.2e2, 8.4e2, 9.8e2, 1.14e3, 1.32e3, 1.5e3, 1.7e3],
  [1750, 6.6e2, 7.7e2, 9.0e2, 1.05e3, 1.22e3, 1.42e3, 1.65e3, 1.9e3],
  [1795, 7.0e2, 8.2e2, 9.6e2, 1.12e3, 1.31e3, 1.53e3, 1.78e3, 2.05e3],
  [1840, 7.5e2, 8.8e2, 1.03e3, 1.21e3, 1.42e3, 1.67e3, 1.96e3, 2.4e3],
  [1885, 8.8e2, 1.03e3, 1.21e3, 1.42e3, 1.67e3, 1.96e3, 2.3e3, 2.8e3],
  [1920, 1.0e3, 1.17e3, 1.37e3, 1.6e3, 1.87e3, 2.2e3, 2.65e3, 3.2e3],
  [1955, 1.15e3, 1.33e3, 1.55e3, 1.8e3, 2.1e3, 2.4e3, 2.6e3],
  [1985, 1.0e3, 1.15e3, 1.33e3, 1.55e3, 1.75e3, 1.9e3], [2010, 6.5e2, 7.5e2, 8.7e2, 1.0e3, 1.15e3, 1.3e3],
  [2032, 4.2e2, 4.8e2, 5.6e2, 6.5e2], [2045, 3.0e2, 3.5e2], [2053, 2.6e2], [2053, 1.4e2], [2053, 1.0e4]
];
const muchSeg3 = [
  [2368, 6.0e1, 7.5e1, 9.2e1, 1.15e2], [2376, 1.4e2, 1.7e2, 2.1e2], [2386, 2.5e2, 3.0e2, 3.6e2],
  [2398, 3.8e2, 4.6e2, 5.5e2], [2410, 4.6e2, 5.6e2, 6.8e2, 8.2e2], [2425, 5.0e2, 5.8e2, 6.8e2, 7.9e2, 9.3e2, 1.12e3],
  [2442, 5.0e2, 5.8e2, 6.8e2, 7.9e2, 9.2e2, 1.07e3, 1.25e3, 1.45e3, 1.55e3],
  [2470, 5.5e2, 6.4e2, 7.5e2, 8.7e2, 1.02e3, 1.19e3, 1.38e3, 1.6e3, 1.85e3, 2.0e3],
  [2515, 6.4e2, 7.4e2, 8.6e2, 1.0e3, 1.16e3, 1.35e3, 1.56e3, 1.8e3, 2.05e3, 2.2e3],
  [2560, 6.4e2, 7.4e2, 8.6e2, 1.0e3, 1.16e3, 1.35e3, 1.56e3, 1.8e3, 2.05e3, 2.25e3],
  [2605, 6.0e2, 7.0e2, 8.2e2, 9.6e2, 1.12e3, 1.3e3, 1.52e3, 1.77e3, 2.05e3, 2.25e3],
  [2650, 6.0e2, 7.0e2, 8.2e2, 9.6e2, 1.12e3, 1.3e3, 1.52e3, 1.77e3, 2.0e3, 2.2e3], [2692, 5.4e2],
  [2695, 6.5e2, 7.5e2, 8.7e2, 1.0e3, 1.16e3, 1.34e3, 1.55e3, 1.75e3],
  [2740, 7.5e2, 8.7e2, 1.01e3, 1.18e3, 1.37e3, 1.6e3, 1.87e3, 2.1e3, 2.3e3],
  [2785, 9.5e2, 1.1e3, 1.27e3, 1.47e3, 1.7e3, 1.97e3, 2.28e3, 2.6e3, 2.8e3],
  [2830, 1.2e3, 1.39e3, 1.61e3, 1.87e3, 2.17e3, 2.52e3, 2.92e3, 3.35e3, 3.7e3],
  [2875, 1.5e3, 1.73e3, 2.0e3, 2.3e3, 2.65e3, 3.05e3, 3.55e3, 4.2e3], [2920, 5.5e3],
  [2925, 1.55e3, 1.79e3, 2.07e3, 2.39e3, 2.76e3, 3.2e3, 3.75e3, 4.4e3],
  [2960, 1.4e3, 1.62e3, 1.88e3, 2.18e3, 2.53e3, 2.95e3, 3.45e3, 4.0e3],
  [2995, 1.1e3, 1.27e3, 1.47e3, 1.7e3, 1.97e3, 2.25e3, 2.5e3],
  [3025, 7.5e2, 8.7e2, 1.0e3, 1.16e3, 1.34e3, 1.55e3, 1.75e3], [3045, 5.4e2, 6.2e2, 7.1e2, 8.0e2],
  [3057, 4.5e2], [3057, 1.5e4]
];
const muchSeg4 = [
  [3788, 6.0e1, 7.5e1, 9.2e1], [3798, 1.1e2, 1.35e2, 1.65e2], [3810, 1.9e2, 2.3e2, 2.8e2], [3824, 3.0e2, 3.6e2, 4.4e2],
  [3840, 4.0e2, 4.6e2, 5.3e2, 6.1e2, 7.3e2], [3860, 4.2e2, 4.9e2, 5.7e2, 6.6e2, 7.7e2, 8.9e2, 9.5e2], [3893, 1.33e3],
  [3895, 4.9e2, 5.7e2, 6.6e2, 7.7e2, 8.9e2, 1.0e3, 1.1e3], [3940, 6.4e2, 7.4e2, 8.6e2, 1.0e3, 1.15e3, 1.3e3, 1.4e3],
  [3984, 3.8e2], [3985, 6.0e2, 7.0e2, 8.1e2, 9.4e2, 1.09e3, 1.26e3, 1.45e3, 1.6e3],
  [4030, 6.0e2, 7.0e2, 8.2e2, 9.6e2, 1.12e3, 1.3e3, 1.5e3, 1.7e3], [4045, 2.3e2],
  [4075, 5.6e2, 6.6e2, 7.8e2, 9.2e2, 1.08e3, 1.27e3, 1.5e3, 1.8e3],
  [4120, 5.9e2, 6.9e2, 8.2e2, 9.7e2, 1.15e3, 1.36e3, 1.62e3, 1.95e3],
  [4165, 6.4e2, 7.5e2, 8.9e2, 1.05e3, 1.25e3, 1.5e3, 1.8e3, 2.2e3],
  [4210, 7.5e2, 8.8e2, 1.04e3, 1.23e3, 1.46e3, 1.73e3, 2.05e3, 2.4e3, 2.7e3],
  [4255, 9.0e2, 1.06e3, 1.26e3, 1.5e3, 1.78e3, 2.12e3, 2.52e3, 2.95e3, 3.4e3],
  [4295, 1.1e3, 1.3e3, 1.54e3, 1.83e3, 2.17e3, 2.58e3, 3.07e3, 3.65e3, 4.3e3],
  [4335, 1.25e3, 1.47e3, 1.73e3, 2.03e3, 2.38e3, 2.8e3, 3.3e3],
  [4375, 1.2e3, 1.4e3, 1.63e3, 1.9e3, 2.2e3, 2.55e3, 2.9e3], [4410, 9.0e2, 1.04e3, 1.2e3, 1.4e3, 1.6e3, 1.8e3],
  [4435, 6.5e2, 7.4e2, 8.5e2, 1.0e3], [4452, 4.9e2, 5.9e2], [4456, 2.3e4]
];
const muchSeg5 = [
  [4776, 6.0e1, 7.3e1, 9.0e1], [4786, 1.05e2, 1.25e2, 1.5e2], [4798, 1.75e2, 2.1e2, 2.5e2], [4810, 2.9e2, 3.5e2, 4.2e2],
  [4825, 2.5e2, 2.9e2, 3.4e2, 4.0e2, 4.6e2, 5.4e2, 6.2e2, 6.7e2],
  [4845, 2.3e2, 2.7e2, 3.1e2, 3.6e2, 4.2e2, 4.9e2, 5.7e2, 6.6e2, 7.6e2, 8.2e2],
  [4885, 2.3e2, 2.7e2, 3.1e2, 3.6e2, 4.2e2, 4.9e2, 5.7e2, 6.6e2, 7.8e2],
  [4930, 2.1e2, 2.45e2, 2.85e2, 3.3e2, 3.85e2, 4.5e2, 5.2e2, 6.1e2, 7.4e2],
  [4975, 2.0e2, 2.35e2, 2.75e2, 3.2e2, 3.7e2, 4.3e2, 5.0e2, 5.9e2, 7.0e2],
  [5020, 2.0e2, 2.35e2, 2.7e2, 3.15e2, 3.65e2, 4.25e2, 4.95e2, 5.8e2, 6.8e2], [5049, 1.4e2],
  [5065, 1.9e2, 2.2e2, 2.6e2, 3.0e2, 3.5e2, 4.1e2, 4.8e2, 5.6e2, 6.5e2],
  [5110, 2.1e2, 2.45e2, 2.85e2, 3.3e2, 3.85e2, 4.5e2, 5.2e2, 6.1e2, 7.2e2],
  [5155, 2.3e2, 2.7e2, 3.1e2, 3.6e2, 4.2e2, 4.9e2, 5.7e2, 6.7e2, 8.0e2],
  [5200, 2.4e2, 2.8e2, 3.25e2, 3.8e2, 4.4e2, 5.1e2, 6.0e2, 7.1e2, 8.6e2],
  [5245, 2.8e2, 3.25e2, 3.8e2, 4.4e2, 5.1e2, 5.9e2, 6.9e2, 8.1e2, 9.6e2],
  [5290, 3.3e2, 3.85e2, 4.45e2, 5.2e2, 6.0e2, 7.0e2, 8.1e2, 9.4e2, 1.05e3],
  [5335, 3.6e2, 4.15e2, 4.8e2, 5.6e2, 6.5e2, 7.6e2, 9.0e2],
  [5375, 3.2e2, 3.7e2, 4.3e2, 5.0e2, 5.8e2, 6.7e2, 7.6e2], [5405, 2.4e2, 2.8e2, 3.3e2, 3.8e2, 4.4e2, 4.8e2],
  [5425, 1.5e2, 1.75e2, 2.05e2, 2.4e2], [5440, 1.0e2, 1.25e2], [5455, 8.0e1], [5468, 8.4e1], [5460, 1.2e3]
];
const muchSeg6 = [
  [5780, 6.0e1, 7.5e1, 9.2e1], [5788, 1.1e2, 1.35e2, 1.65e2], [5798, 1.95e2, 2.4e2, 2.9e2], [5810, 3.3e2, 4.0e2, 4.8e2],
  [5825, 4.5e2, 5.2e2, 6.0e2, 7.0e2, 8.0e2], [5845, 4.8e2, 5.6e2, 6.5e2, 7.6e2, 8.9e2, 1.07e3],
  [5875, 4.8e2, 5.6e2, 6.5e2, 7.6e2, 8.9e2, 1.04e3, 1.2e3, 1.3e3],
  [5920, 4.5e2, 5.25e2, 6.1e2, 7.1e2, 8.3e2, 9.7e2, 1.13e3, 1.3e3],
  [5965, 4.3e2, 5.0e2, 5.85e2, 6.85e2, 8.0e2, 9.4e2, 1.1e3, 1.3e3], [5992, 1.74e3],
  [6010, 4.0e2, 4.7e2, 5.5e2, 6.45e2, 7.6e2, 8.9e2, 1.05e3, 1.22e3, 1.3e3], [6022, 3.4e2],
  [6055, 4.3e2, 5.0e2, 5.85e2, 6.85e2, 8.0e2, 9.4e2, 1.1e3, 1.28e3, 1.35e3],
  [6100, 4.5e2, 5.25e2, 6.1e2, 7.1e2, 8.3e2, 9.7e2, 1.13e3, 1.3e3, 1.4e3],
  [6145, 4.6e2, 5.4e2, 6.3e2, 7.4e2, 8.6e2, 1.0e3, 1.17e3, 1.35e3, 1.45e3],
  [6190, 5.2e2, 6.1e2, 7.1e2, 8.3e2, 9.7e2, 1.13e3, 1.32e3, 1.52e3, 1.65e3],
  [6235, 6.0e2, 7.0e2, 8.2e2, 9.6e2, 1.12e3, 1.31e3, 1.53e3, 1.75e3, 1.9e3],
  [6280, 7.5e2, 8.8e2, 1.03e3, 1.2e3, 1.4e3, 1.64e3, 1.92e3, 2.2e3, 2.5e3],
  [6325, 9.0e2, 1.05e3, 1.23e3, 1.44e3, 1.68e3, 1.96e3, 2.3e3, 2.65e3, 3.0e3], [6357, 4.1e3],
  [6370, 9.5e2, 1.11e3, 1.3e3, 1.52e3, 1.77e3, 2.07e3, 2.42e3, 2.8e3],
  [6410, 8.2e2, 9.6e2, 1.12e3, 1.31e3, 1.53e3, 1.78e3, 2.0e3], [6440, 5.4e2, 6.2e2, 7.2e2, 8.5e2],
  [6460, 4.0e2, 4.6e2], [6469, 3.2e2], [6469, 1.0e4]
];
const muchSeg7 = [
  [6783, 6.0e1, 7.5e1, 9.2e1], [6792, 1.1e2, 1.35e2, 1.65e2], [6802, 1.95e2, 2.4e2], [6812, 2.8e2, 3.4e2, 4.1e2],
  [6826, 3.8e2, 4.7e2, 5.8e2], [6842, 4.2e2, 4.9e2, 5.7e2, 6.7e2, 7.8e2, 8.6e2],
  [6858, 5.2e2, 6.1e2, 7.1e2, 8.3e2, 9.7e2, 1.13e3, 1.25e3], [6880, 5.9e2, 6.9e2, 8.0e2, 9.3e2, 1.08e3, 1.26e3, 1.45e3],
  [6910, 6.6e2, 7.7e2, 8.9e2, 1.03e3, 1.2e3, 1.38e3, 1.55e3], [6940, 7.0e2, 8.1e2, 9.4e2, 1.09e3, 1.26e3, 1.46e3, 1.65e3],
  [6970, 6.6e2, 7.7e2, 9.0e2, 1.05e3, 1.22e3, 1.42e3, 1.62e3, 1.74e3],
  [6995, 6.4e2, 7.4e2, 8.6e2, 1.0e3, 1.15e3, 1.32e3, 1.5e3]
];

// turn [slice, v1, v2, ...] rows into scatter points;
// rows with many readings belong to the dense bands
function toPoints(segments) {
  const pts = [];
  segments.forEach(function (seg) {
    seg.forEach(function (row) {
      const dense = row.length > 4;
      for (let i = 1; i < row.length; i++) {
        pts.push({ x: row[0], y: row[i], dense: dense });
      }
    });
  });
  return pts;
}

const stsPoints = toPoints([stsSeg0, stsSeg1, stsSeg2, stsSeg3, stsSeg4, stsSeg5, stsSeg6, stsSeg7]);
const tofPoints = toPoints([tofSeg0, tofSeg1, tofSeg2, tofSeg3, tofSeg4, tofSeg5, tofSeg6, tofSeg7]);
const t0Points = toPoints([t0Seg0, t0Seg1, t0Seg2, t0Seg3, t0Seg4, t0Seg5, t0Seg6, t0Seg7]);
const muchPoints = toPoints([muchSeg0, muchSeg1, muchSeg2, muchSeg3, muchSeg4, muchSeg5, muchSeg6, muchSeg7]);

const FONT = "'Liberation Sans', Arial, Helvetica, sans-serif";

// draw text stretched horizontally by sx
function squeezedText(ctx, str, x, y, size, align, sx) {
  ctx.save();
  ctx.translate(x, y);
  ctx.scale(sx, 1);
  ctx.font = size + 'px ' + FONT;
  ctx.textAlign = align;
  ctx.textBaseline = 'alphabetic';
  ctx.fillText(str, 0, 0);
  ctx.restore();
}

const whiteBackground = {
  id: 'whiteBackground',
  beforeDraw: function (chart) {
    const ctx = chart.ctx;
    ctx.save();
    ctx.fillStyle = '#ffffff';
    ctx.fillRect(0, 0, chart.width, chart.height);
    ctx.restore();
  }
};

// frame, inward ticks, labels and legend in the usual ROOT look
const rootFrame = {
  id: 'rootFrame',
  afterDatasetsDraw: function (chart) {
    const ctx = chart.ctx;
    const area = chart.chartArea;
    const xs = chart.scales.x;
    const ys = chart.scales.y;
    ctx.save();
    ctx.strokeStyle = '#000000';
    ctx.fillStyle = '#000000';
    ctx.lineWidth = 1;
    ctx.strokeRect(Math.round(area.left) + 0.5, Math.round(area.top) + 0.5,
      Math.round(area.right - area.left), Math.round(area.bottom - area.top));

    // y ticks: decades long, 2..9 short
    ctx.beginPath();
    for (let n = 1; n <= 8; n++) {
      for (let k = 1; k <= 9; k++) {
        const v = k * Math.pow(10, n);
        if (v < ys.min || v > ys.max) continue;
        const y = Math.round(ys.getPixelForValue(v)) + 0.5;
        const len = k === 1 ? 23 : 12;
        ctx.moveTo(area.left, y);
        ctx.lineTo(area.left + len, y);
      }
    }
    // x ticks every 500, long at multiples of 2000
    for (let t = 0; t <= xs.max; t += 500) {
      const x = Math.round(xs.getPixelForValue(t)) + 0.5;
      const len = t % 2000 === 0 ? 17 : 9;
      ctx.moveTo(x, area.bottom);
      ctx.lineTo(x, area.bottom - len);
    }
    ctx.stroke();

    // y tick labels as 10 with a raised exponent
    yDecades.forEach(function (n) {
      const y = ys.getPixelForValue(Math.pow(10, n));
      squeezedText(ctx, '10', 101.5, y + 16, 32, 'right', 0.95);
      squeezedText(ctx, String(n), 102, y + 0.5, 18.5, 'left', 0.95);
    });

    // x tick labels
    xTickLabels.forEach(function (t) {
      const x = xs.getPixelForValue(t);
      squeezedText(ctx, String(t), x, 593, 34, 'center', 0.95);
    });

    // axis titles
    squeezedText(ctx, 'Time Slice', 548, 637, 40, 'center', 0.9);
    ctx.save();
    ctx.translate(52.5, 18);
    ctx.rotate(-Math.PI / 2);
    squeezedText(ctx, 'Digis', 0, 0, 42, 'right', 1.18);
    ctx.restore();

    // legend boxes
    const rowTop = [40, 69, 98, 127];
    seriesLabels.forEach(function (label, i) {
      ctx.fillStyle = seriesColors[i];
      ctx.fillRect(611, rowTop[i], 56, 20);
      ctx.fillStyle = '#000000';
      squeezedText(ctx, label, 684, rowTop[i] + 18, 21.5, 'left', 0.86);
    });
    ctx.restore();
  }
};

// dense band markers a little larger so the bands close up
function markerRadius(context) {
  return context.raw && context.raw.dense ? 3.6 : 2.8;
}

function makeSet(label, points, color, order) {
  return {
    label: label,
    data: points,
    backgroundColor: color,
    borderColor: color,
    borderWidth: 0,
    pointRadius: markerRadius,
    pointHoverRadius: markerRadius,
    pointStyle: 'circle',
    showLine: false,
    clip: false,
    order: order
  };
}

const digiChart = new Chart(document.getElementById('digiChart'), {
  type: 'scatter',
  data: {
    datasets: [
      makeSet(seriesLabels[0], stsPoints, seriesColors[0], 4),
      makeSet(seriesLabels[1], tofPoints, seriesColors[1], 3),
      makeSet(seriesLabels[2], t0Points, seriesColors[2], 2),
      makeSet(seriesLabels[3], muchPoints, seriesColors[3], 1)
    ]
  },
  options: {
    responsive: false,
    animation: false,
    events: [],
    layout: { padding: { left: 0, right: 4, top: 19, bottom: 0 } },
    plugins: {
      legend: { display: false },
      tooltip: { enabled: false }
    },
    scales: {
      x: {
        type: 'linear',
        min: 0,
        max: 7720,
        grid: { display: false },
        border: { display: false },
        ticks: { display: false },
        afterFit: function (scale) { scale.height = 88; }
      },
      y: {
        type: 'logarithmic',
        min: 58,
        max: 1.16e8,
        grid: { display: false },
        border: { display: false },
        ticks: { display: false },
        afterFit: function (scale) { scale.width = 123; }
      }
    }
  },
  plugins: [whiteBackground, rootFrame]
});
</script>
</body>
</html>
